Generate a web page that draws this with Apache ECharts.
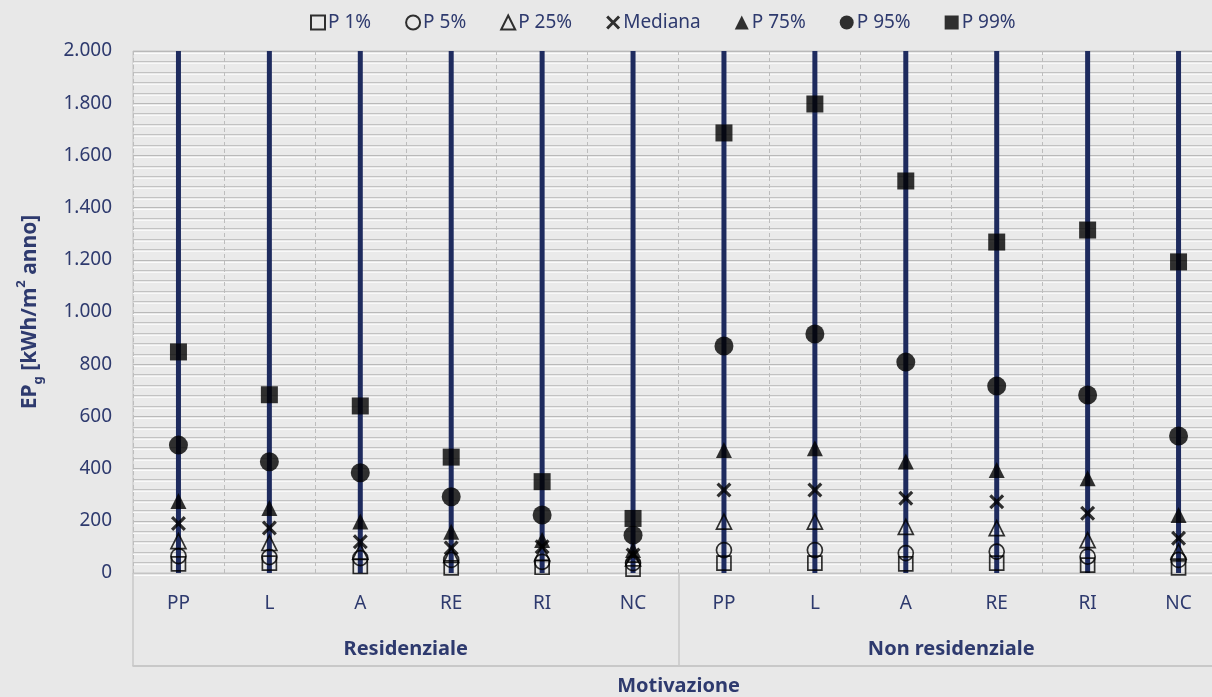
<!DOCTYPE html>
<html>
<head>
<meta charset="utf-8">
<script src="https://cdn.jsdelivr.net/npm/echarts@6/dist/echarts.min.js"></script>
<style>
  html, body { margin: 0; padding: 0; background: #e8e8e8; }
  #chart { width: 1212px; height: 697px; }
</style>
</head>
<body>
<div id="chart"></div>
<script>
const chart = echarts.init(document.getElementById("chart"));

// ==========================
// DATA
// ==========================

const categories = ["PP", "L", "A", "RE", "RI", "NC", "PP", "L", "A", "RE", "RI", "NC"];
const groups = ["Residenziale", "Non residenziale"];

// full-height range line drawn behind each column
const rangeTop = [2000, 2000, 2000, 2000, 2000, 2000, 2000, 2000, 2000, 2000, 2000, 2000];

const p1 = [35, 38, 25, 20, 22, 15, 38, 38, 35, 38, 30, 20];
const p5 = [65, 61, 57, 50, 43, 38, 88, 88, 76, 82, 63, 50];
const p25 = [122, 115, 82, 69, 76, 56, 197, 197, 177, 172, 126, 82];
const mediana = [190, 172, 120, 96, 101, 69, 318, 318, 286, 273, 229, 133];
const p75 = [276, 249, 197, 158, 126, 88, 471, 478, 427, 395, 363, 222];
const p95 = [490, 426, 384, 292, 222, 145, 870, 916, 808, 716, 682, 525];
const p99 = [847, 683, 640, 444, 350, 209, 1686, 1797, 1502, 1268, 1314, 1192];

// ==========================
// STYLE
// ==========================

const NAVY = "#2e3a6e";
const LINE = "#1e2b5e";
const GRID = "#c4c4c4";
const FONT = "Noto Sans";
const HOLLOW = "rgba(0,0,0,0)";
const CROSS = "path://M0,3 L3,0 L10,7 L17,0 L20,3 L13,10 L20,17 L17,20 L10,13 L3,20 L0,17 L7,10 Z";

function marker(name, data, symbol, size, filled) {
  return {
    name: name,
    type: "scatter",
    data: data,
    symbol: symbol,
    symbolSize: size,
    z: filled ? 4 : 3,
    itemStyle: filled
      ? { color: "#000" }
      : { color: HOLLOW, borderColor: "#000", borderWidth: 1.7 }
  };
}

// ==========================
// INIT
// ==========================

chart.setOption({
  backgroundColor: "#e8e8e8",
  textStyle: { fontFamily: FONT },

  legend: {
    top: 8,
    left: 305,
    itemWidth: 14,
    itemHeight: 14,
    itemGap: 34,
    data: ["P 1%", "P 5%", "P 25%", "Mediana", "P 75%", "P 95%", "P 99%"],
    textStyle: { color: NAVY, fontSize: 19, fontFamily: FONT, padding: [0, 0, 0, -2] }
  },

  grid: {
    left: 133,
    top: 51,
    width: 1091,
    height: 522,
    outerBoundsMode: "none",
    containLabel: false,
    show: true,
    backgroundColor: "#eaeaea",
    borderColor: GRID,
    borderWidth: 1
  },

  xAxis: [
    {
      type: "category",
      data: categories,
      axisLine: { lineStyle: { color: GRID } },
      axisTick: { show: false },
      axisLabel: { color: NAVY, fontSize: 19, margin: 21, fontFamily: FONT },
      splitLine: { show: true, lineStyle: { color: "#bdbdbd", type: [4, 3] } }
    },
    {
      type: "category",
      data: groups,
      position: "bottom",
      offset: 93,
      axisLine: { show: true, lineStyle: { color: "#bdbdbd", width: 1.5 } },
      axisTick: { show: true, inside: true, length: 93, lineStyle: { color: "#c8c8c8", width: 1.5 } },
      axisLabel: { inside: true, margin: 7, color: NAVY, fontSize: 20, fontWeight: "bold", fontFamily: FONT },
      name: "Motivazione",
      nameLocation: "middle",
      nameGap: 10,
      nameTextStyle: { color: NAVY, fontSize: 20, fontWeight: "bold", fontFamily: FONT }
    }
  ],

  yAxis: {
    type: "value",
    min: 0,
    max: 2000,
    interval: 200,
    axisLine: { show: false },
    axisTick: { show: false },
    axisLabel: {
      color: NAVY,
      fontSize: 19,
      margin: 21,
      fontFamily: FONT,
      formatter: v => String(v).replace(/\B(?=(\d{3})+(?!\d))/g, ".")
    },
    splitLine: {
      lineStyle: { color: "#b9b9b9", width: 1, shadowColor: "#fbfbfb", shadowOffsetY: 2, shadowBlur: 0 }
    },
    minorTick: { show: false, splitNumber: 5 },
    minorSplitLine: {
      show: true,
      lineStyle: { color: "#c2c2c2", width: 1, shadowColor: "#f8f8f8", shadowOffsetY: 2, shadowBlur: 0 }
    },
    name: "{b|EP}{s|g}{b| [kWh/m}{p|2}{b| anno]}",
    nameLocation: "middle",
    nameGap: 88,
    nameTextStyle: {
      rich: {
        b: { fontSize: 21, fontWeight: "bold", color: NAVY, fontFamily: FONT, lineHeight: 30 },
        s: { fontSize: 13, fontWeight: "bold", color: NAVY, fontFamily: FONT, lineHeight: 14, verticalAlign: "bottom" },
        p: { fontSize: 13, fontWeight: "bold", color: NAVY, fontFamily: FONT, lineHeight: 14, verticalAlign: "top" }
      }
    }
  },

  series: [
    {
      name: "range",
      type: "bar",
      data: rangeTop,
      barWidth: 5,
      z: 2,
      itemStyle: { color: LINE },
      silent: true
    },
    marker("P 1%", p1, "rect", 14, false),
    marker("P 5%", p5, "circle", 15, false),
    marker("P 25%", p25, "triangle", 15, false),
    marker("Mediana", mediana, CROSS, 15, true),
    marker("P 75%", p75, "triangle", 16, true),
    marker("P 95%", p95, "circle", 19, true),
    marker("P 99%", p99, "rect", 17, true)
  ]
});
</script>
</body>
</html>
